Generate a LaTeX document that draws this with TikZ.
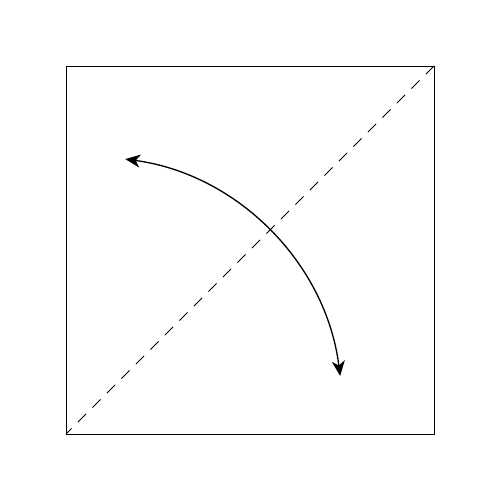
\documentclass[tikz,border=0pt]{standalone}
\usetikzlibrary{arrows.meta}
\begin{document}
\begin{tikzpicture}[x=1pt,y=1pt,
  frame/.style={draw=black,line width=0.9pt},
  diag/.style={draw=black,line width=0.9pt,dash pattern=on 11.5pt off 9pt},
  swingarc/.style={draw=black,line width=1.3pt,{Stealth[length=15pt,width=13pt,inset=4.5pt]}-{Stealth[length=15pt,width=13pt,inset=4.5pt]}}]
\useasboundingbox (0,0) rectangle (500,500);
\coordinate (bl) at (66,66);
\coordinate (tr) at (434,434);
\coordinate (ctr) at (91.5,91.5);
\draw[frame] (bl) rectangle (tr);
\draw[diag] (tr) -- (bl);
\draw[swingarc] ([shift={(82.3:251.7)}]ctr) arc[start angle=82.3,end angle=7.2,radius=250.5];
\end{tikzpicture}
\end{document}
